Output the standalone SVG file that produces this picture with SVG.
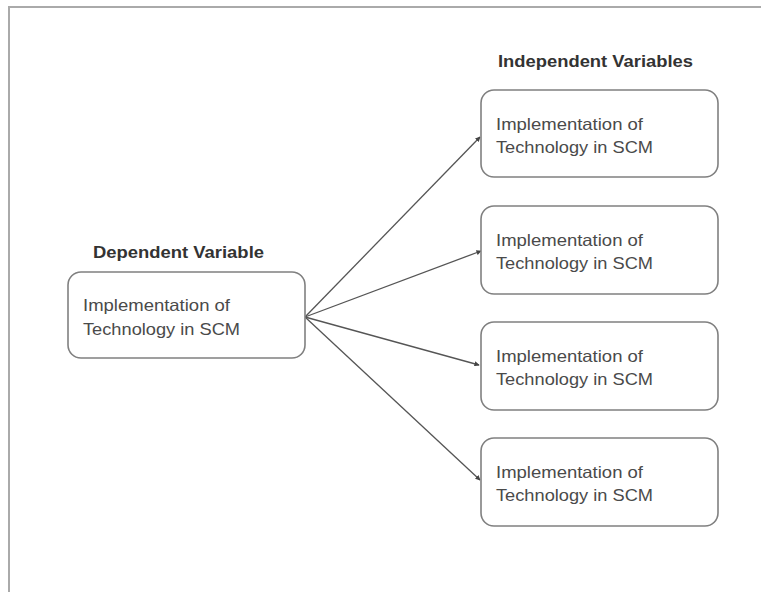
<svg xmlns="http://www.w3.org/2000/svg" width="761" height="592" viewBox="0 0 761 592">
<style>
.box{fill:#fff;stroke:#808080;stroke-width:1.6}
.t{font-family:"Liberation Sans",Arial,sans-serif;font-size:16.5px;fill:#4a4a4a}
.h{font-family:"Liberation Sans",Arial,sans-serif;font-size:16.5px;font-weight:bold;fill:#333}
.c{stroke:#555;stroke-width:1.3;fill:none;marker-end:url(#ah)}
.frame{stroke:#aaa;stroke-width:2;fill:none}
</style>
<defs>
<marker id="ah" viewBox="0 0 8 8" refX="7" refY="4" markerWidth="4" markerHeight="4" orient="auto" markerUnits="strokeWidth">
<path d="M0,0 L8,4 L0,8 z" fill="#444"/>
</marker>
</defs>
<rect width="761" height="592" fill="#fff"/>
<path class="frame" d="M9,592 V7 H761"/>
<g id="labels">
<text class="h" x="93" y="258" textLength="171" lengthAdjust="spacingAndGlyphs">Dependent Variable</text>
<text class="h" x="498" y="67" textLength="195" lengthAdjust="spacingAndGlyphs">Independent Variables</text>
</g>
<g id="connectors">
<line class="c" x1="305" y1="317" x2="480" y2="137"/>
<line class="c" x1="305" y1="317" x2="481" y2="251"/>
<line class="c" x1="305" y1="317" x2="479" y2="365"/>
<line class="c" x1="305" y1="317" x2="480" y2="480"/>
</g>
<g id="dependent">
<rect class="box" x="68" y="272" width="237" height="86" rx="13"/>
<text class="t" x="83" y="311" textLength="147" lengthAdjust="spacingAndGlyphs">Implementation of</text>
<text class="t" x="83" y="335" textLength="157" lengthAdjust="spacingAndGlyphs">Technology in SCM</text>
</g>
<g id="independent1">
<rect class="box" x="481" y="90" width="237" height="87" rx="13"/>
<text class="t" x="496" y="130" textLength="147" lengthAdjust="spacingAndGlyphs">Implementation of</text>
<text class="t" x="496" y="153" textLength="157" lengthAdjust="spacingAndGlyphs">Technology in SCM</text>
</g>
<g id="independent2">
<rect class="box" x="481" y="206" width="237" height="88" rx="13"/>
<text class="t" x="496" y="246" textLength="147" lengthAdjust="spacingAndGlyphs">Implementation of</text>
<text class="t" x="496" y="269" textLength="157" lengthAdjust="spacingAndGlyphs">Technology in SCM</text>
</g>
<g id="independent3">
<rect class="box" x="481" y="322" width="237" height="88" rx="13"/>
<text class="t" x="496" y="362" textLength="147" lengthAdjust="spacingAndGlyphs">Implementation of</text>
<text class="t" x="496" y="385" textLength="157" lengthAdjust="spacingAndGlyphs">Technology in SCM</text>
</g>
<g id="independent4">
<rect class="box" x="481" y="438" width="237" height="88" rx="13"/>
<text class="t" x="496" y="478" textLength="147" lengthAdjust="spacingAndGlyphs">Implementation of</text>
<text class="t" x="496" y="501" textLength="157" lengthAdjust="spacingAndGlyphs">Technology in SCM</text>
</g>
</svg>
